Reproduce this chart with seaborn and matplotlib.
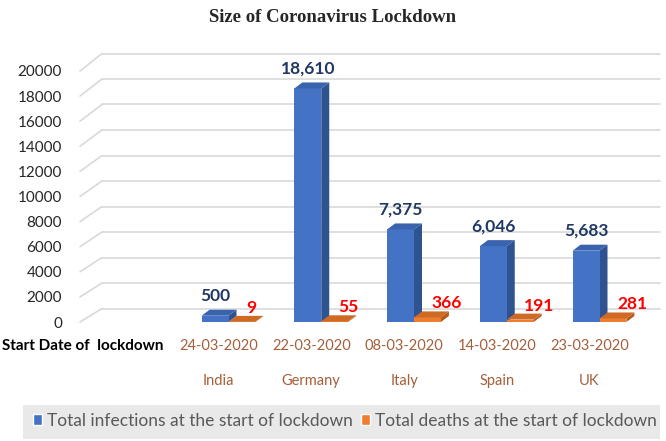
import numpy as np
import pandas as pd
import matplotlib
matplotlib.use("Agg")
import matplotlib.pyplot as plt
from matplotlib.patches import Polygon, Rectangle
import seaborn as sns

# data
countries = ["India", "Germany", "Italy", "Spain", "UK"]
start_dates = ["24-03-2020", "22-03-2020", "08-03-2020", "14-03-2020", "23-03-2020"]
infections = [500, 18610, 7375, 6046, 5683]
deaths = [9, 55, 366, 191, 281]
series_names = ["Total infections at the start of lockdown",
                "Total deaths at the start of lockdown"]
y_ticks = [0, 2000, 4000, 6000, 8000, 10000, 12000, 14000, 16000, 18000, 20000]

BLUE, BLUE_SIDE, BLUE_TOP = "#4472C4", "#2F5290", "#3A63AE"
ORANGE, ORANGE_SIDE, ORANGE_TOP = "#ED7D31", "#B35A1C", "#CF6A24"
LABEL_BROWN = "#A65F3A"

df = pd.DataFrame({
    "country": countries * 2,
    "value": infections + deaths,
    "series": [series_names[0]] * 5 + [series_names[1]] * 5,
})

sns.set_style("white")
plt.rcParams["font.family"] = ["Lato", "DejaVu Sans"]

W, H = 666, 441
fig = plt.figure(figsize=(W / 100, H / 100), dpi=100)
# front axis: x 80..660 px, y 0 at 322 px, 20000 at 71 px
ax = fig.add_axes([80 / W, (H - 322) / H, 580 / W, 251 / H])

sns.barplot(data=df, x="country", y="value", hue="series",
            palette=[BLUE, ORANGE], width=0.58, saturation=1,
            gap=0, ax=ax, legend=False, zorder=3, linewidth=0, edgecolor="none")

px_x = 92.75            # pixels per category
px_y = 251 / 20000      # pixels per unit of value
x_left = (80 - 228.5) / px_x
x_right = (660 - 228.5) / px_x
ax.set_xlim(x_left, x_right)
ax.set_ylim(0, 20000)
sns.despine(ax=ax, left=True, bottom=True)

# back wall gridlines with the slanted corner
back_dx = 22 / px_x
for yv in y_ticks:
    back_dy = (13.5 + 4 * yv / 20000) / px_y
    ax.plot([x_left, x_left + back_dx], [yv, yv + back_dy], color="#D9D9D9",
            lw=1.2, clip_on=False, zorder=0)
    ax.plot([x_left + back_dx, x_right], [yv + back_dy, yv + back_dy],
            color="#D9D9D9", lw=1.2, clip_on=False, zorder=0)

# 3D side and top faces built from the seaborn bars
dx = 8 / px_x
dy = 6 / px_y
faces = [(BLUE_SIDE, BLUE_TOP), (ORANGE_SIDE, ORANGE_TOP)]
for cont, (side_c, top_c) in zip(ax.containers, faces):
    for bar in cont:
        x0, w, h = bar.get_x(), bar.get_width(), bar.get_height()
        side = Polygon([(x0 + w, 0), (x0 + w, h), (x0 + w + dx, h + dy), (x0 + w + dx, dy)],
                       closed=True, facecolor=side_c, edgecolor="none", zorder=2)
        top = Polygon([(x0, h), (x0 + w, h), (x0 + w + dx, h + dy), (x0 + dx, h + dy)],
                      closed=True, facecolor=top_c, edgecolor="none", zorder=4)
        ax.add_patch(side)
        ax.add_patch(top)

# value labels
for bar, v in zip(ax.containers[0], infections):
    ax.annotate(f"{v:,}", (bar.get_x() + bar.get_width() / 2, v),
                xytext=(0, 20 * 0.72), textcoords="offset points",
                ha="center", va="center", fontsize=12.5, fontweight="bold",
                color="#1F3864", zorder=6)
for bar, v in zip(ax.containers[1], deaths):
    ax.annotate(f"{v:,}", (bar.get_x() + bar.get_width() / 2, v),
                xytext=(4 * 0.72, 14 * 0.72), textcoords="offset points",
                ha="left", va="center", fontsize=12.5, fontweight="bold",
                color="#FF0000", zorder=6)

# axis ticks
ax.set_yticks(y_ticks)
ax.set_yticklabels([str(t) for t in y_ticks], fontsize=11, color="#262626")
ax.set_xticks(np.arange(len(countries)) - 10 / px_x)
ax.set_xticklabels([f"{d}\n{c}" for d, c in zip(start_dates, countries)],
                   fontsize=10.5, color=LABEL_BROWN)
for lab in ax.get_xticklabels():
    lab.set_linespacing(2.95)
ax.tick_params(axis="y", length=0, pad=13)
ax.tick_params(axis="x", length=0, pad=12)
ax.set_xlabel("")
ax.set_ylabel("")

fig.text(2 / W, 1 - 346 / H, "Start Date of  lockdown", ha="left", va="center",
         fontsize=11, fontweight="bold", color="black")

fig.text(0.5, 1 - 18 / H, "Size of Coronavirus Lockdown", ha="center", va="center",
         fontsize=13.5, fontweight="bold", family="Liberation Serif")

# legend on a grey band
fig.patches.append(Rectangle((23 / W, 2 / H), 637 / W, 34 / H, transform=fig.transFigure,
                             facecolor="#E9E9E9", edgecolor="none", zorder=0))
handles = [Rectangle((0, 0), 1, 1, facecolor=BLUE), Rectangle((0, 0), 1, 1, facecolor=ORANGE)]
fig.legend(handles, series_names, loc="center", bbox_to_anchor=(345 / W, 1 - 421 / H),
           ncol=2, frameon=False, fontsize=12.5, handlelength=0.5, handleheight=0.6,
           handletextpad=0.3, columnspacing=0.5, labelcolor="#595959")

fig.savefig("out.png", dpi=100)
